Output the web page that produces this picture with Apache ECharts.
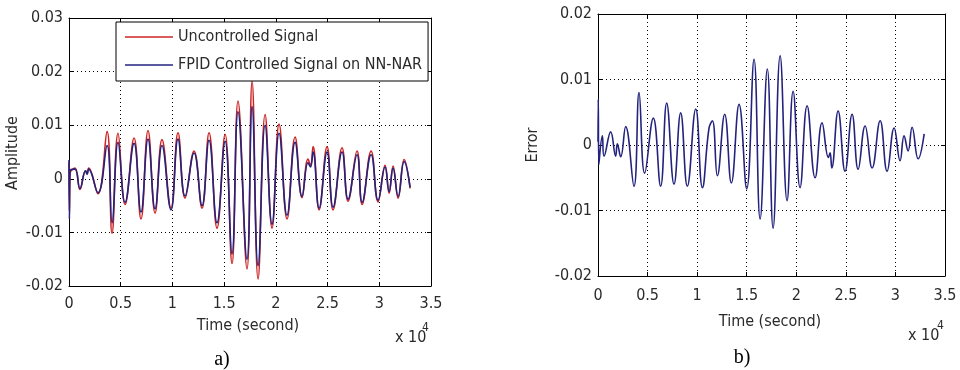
<!DOCTYPE html>
<html>
<head>
<meta charset="utf-8">
<script src="https://cdn.jsdelivr.net/npm/echarts@6/dist/echarts.min.js"></script>
<style>
html,body{margin:0;padding:0;background:#fff;}
#c{width:960px;height:370px;}
</style>
</head>
<body>
<div id="c"></div>
<script>
// ---- Panel a) : time in units of 1e4 s ----
var timeA = [0, 0.004, 0.01, 0.058, 0.106, 0.16, 0.175, 0.19, 0.28, 0.368, 0.416, 0.474, 0.542, 0.629, 0.696, 0.764, 0.832, 0.899, 0.986, 1.054, 1.122, 1.209, 1.286, 1.354, 1.431, 1.509, 1.576, 1.634, 1.721, 1.770, 1.828, 1.896, 1.963, 2.031, 2.108, 2.186, 2.253, 2.311, 2.335, 2.360, 2.418, 2.495, 2.553, 2.640, 2.698, 2.785, 2.834, 2.921, 2.988, 3.056, 3.095, 3.133, 3.182, 3.240, 3.298];
var uncontrolled = [0.003, -0.006, 0.001, 0.002, -0.002, 0.0015, 0.001, 0.002, -0.0028, 0.0088, -0.0102, 0.0085, -0.0048, 0.0076, -0.0075, 0.0090, -0.0064, 0.0073, -0.0055, 0.0086, -0.0036, 0.0052, -0.0055, 0.0086, -0.0092, 0.0083, -0.0158, 0.0145, -0.0168, 0.0182, -0.0187, 0.0120, -0.0092, 0.0102, -0.0075, 0.0078, -0.0035, 0.0037, 0.0025, 0.0060, -0.0058, 0.0060, -0.0058, 0.0058, -0.0042, 0.0052, -0.0048, 0.0052, -0.0043, 0.0025, -0.0027, 0.0024, -0.0036, 0.0036, -0.0018];
var controlled = [0.0035, -0.0075, 0.0015, 0.0018, -0.0018, 0.0015, 0.0008, 0.0018, -0.0026, 0.0062, -0.0082, 0.0068, -0.0044, 0.0066, -0.0062, 0.0074, -0.0056, 0.0062, -0.0058, 0.0074, -0.0032, 0.0048, -0.0050, 0.0072, -0.0082, 0.0070, -0.0140, 0.0125, -0.0150, 0.0135, -0.0162, 0.0100, -0.0085, 0.0085, -0.0068, 0.0068, -0.0033, 0.0030, 0.0022, 0.0050, -0.0055, 0.0050, -0.0053, 0.0050, -0.0038, 0.0045, -0.0044, 0.0045, -0.0040, 0.0022, -0.0024, 0.0020, -0.0033, 0.0032, -0.0016];

// ---- Panel b) ----
var timeB = [0, 0.003, 0.008, 0.044, 0.061, 0.128, 0.178, 0.195, 0.229, 0.279, 0.363, 0.414, 0.471, 0.558, 0.632, 0.693, 0.767, 0.834, 0.901, 0.986, 1.053, 1.120, 1.154, 1.204, 1.278, 1.345, 1.423, 1.500, 1.574, 1.635, 1.708, 1.766, 1.837, 1.907, 1.968, 2.038, 2.109, 2.190, 2.260, 2.324, 2.341, 2.358, 2.422, 2.492, 2.563, 2.624, 2.694, 2.765, 2.846, 2.916, 2.987, 3.047, 3.087, 3.128, 3.168, 3.229, 3.290];
var errorB = [0.0005, 0.007, -0.003, 0.0014, -0.0017, 0.002, -0.0017, 0.0002, -0.0018, 0.0028, -0.0063, 0.008, -0.0043, 0.0041, -0.0063, 0.0064, -0.006, 0.0049, -0.0063, 0.0055, -0.0065, 0.0026, 0.0037, -0.0047, 0.0047, -0.0058, 0.0062, -0.0067, 0.0131, -0.0113, 0.0116, -0.0127, 0.0136, -0.0085, 0.0082, -0.0065, 0.006, -0.005, 0.0034, -0.0019, -0.0012, -0.0035, 0.0052, -0.004, 0.0047, -0.0037, 0.0029, -0.0035, 0.0037, -0.004, 0.0026, -0.0024, 0.0014, -0.0009, 0.0027, -0.0021, 0.0017];

var xTicks = ['0', '0.5', '1', '1.5', '2', '2.5', '3', '3.5'];
var yTicksA = ['-0.02', '-0.01', '0', '0.01', '0.02', '0.03'];
var yTicksB = ['-0.02', '-0.01', '0', '0.01', '0.02'];

function zip(a, b) { var r = []; for (var i = 0; i < a.length; i++) r.push([a[i], b[i]]); return r; }

var FONT = "'Liberation Sans Narrow', 'Arial Narrow', 'DejaVu Sans Condensed', sans-serif";
var TXT = '#2a2a2a';
var FS = 16;

function fmtY(v) { if (Math.abs(v) < 1e-9) return '0'; return v.toFixed(2); }
function fmtX(v) { if (Math.abs(v) < 1e-9) return '0'; return String(Math.round(v * 10) / 10); }

function mainX(gi, margin) {
  return {
    gridIndex: gi, type: 'value', min: 0, max: 3.5, interval: 0.5,
    axisLine: { show: true, onZero: false, lineStyle: { color: '#000', width: 1 } },
    axisTick: { show: true, inside: true, length: 4, lineStyle: { color: '#000' } },
    axisLabel: { fontSize: FS, fontFamily: FONT, color: TXT, margin: margin, formatter: fmtX },
    splitLine: { show: true, lineStyle: { color: '#000', type: [1, 3], width: 1 } }
  };
}
function boxX(gi) {
  return {
    gridIndex: gi, type: 'value', position: 'top', min: 0, max: 3.5, interval: 0.5,
    axisLine: { show: true, onZero: false, lineStyle: { color: '#000', width: 1 } },
    axisTick: { show: true, inside: true, length: 4, lineStyle: { color: '#000' } },
    axisLabel: { show: false }, splitLine: { show: false }
  };
}
function mainY(gi, min, max) {
  return {
    gridIndex: gi, type: 'value', min: min, max: max, interval: 0.01,
    axisLine: { show: true, onZero: false, lineStyle: { color: '#000', width: 1 } },
    axisTick: { show: true, inside: true, length: 4, lineStyle: { color: '#000' } },
    axisLabel: { fontSize: FS, fontFamily: FONT, color: TXT, margin: 6, formatter: fmtY },
    splitLine: { show: true, lineStyle: { color: '#000', type: [1, 3], width: 1 } }
  };
}
function boxY(gi, min, max) {
  return {
    gridIndex: gi, type: 'value', position: 'right', min: min, max: max, interval: 0.01,
    axisLine: { show: true, onZero: false, lineStyle: { color: '#000', width: 1 } },
    axisTick: { show: true, inside: true, length: 4, lineStyle: { color: '#000' } },
    axisLabel: { show: false }, splitLine: { show: false }
  };
}

var chart = echarts.init(document.getElementById('c'), null, { renderer: 'canvas' });
var option = {
  animation: false,
  backgroundColor: '#fff',
  grid: [
    { left: 69, top: 18, width: 362, height: 268 },
    { left: 598, top: 14, width: 347, height: 262 }
  ],
  xAxis: [mainX(0, 10), boxX(0), mainX(1, 12), boxX(1)],
  yAxis: [mainY(0, -0.02, 0.03), boxY(0, -0.02, 0.03), mainY(1, -0.02, 0.02), boxY(1, -0.02, 0.02)],
  legend: {
    orient: 'vertical', left: 116, top: 22,
    backgroundColor: '#fff', borderColor: '#000', borderWidth: 1, borderRadius: 0,
    padding: [5, 6, 6, 9], itemGap: 8, itemWidth: 48, itemHeight: 1.6, icon: 'rect',
    textStyle: { fontSize: FS, fontFamily: FONT, color: TXT, lineHeight: 20 },
    data: ['Uncontrolled Signal', 'FPID Controlled Signal on NN-NAR']
  },
  series: [
    { name: 'Uncontrolled Signal', type: 'line', xAxisIndex: 0, yAxisIndex: 0, data: zip(timeA, uncontrolled),
      symbol: 'none', smooth: 0.45, lineStyle: { color: '#cc2424', width: 1.6 }, itemStyle: { color: '#cc2424' } },
    { name: 'FPID Controlled Signal on NN-NAR', type: 'line', xAxisIndex: 0, yAxisIndex: 0, data: zip(timeA, controlled),
      symbol: 'none', smooth: 0.45, lineStyle: { color: '#23237e', width: 1.6 }, itemStyle: { color: '#23237e' } },
    { name: 'Error', type: 'line', xAxisIndex: 2, yAxisIndex: 2, data: zip(timeB, errorB),
      symbol: 'none', smooth: 0.45, lineStyle: { color: '#23237e', width: 1.6 }, itemStyle: { color: '#23237e' } }
  ],
  graphic: [
    { type: 'text', x: 248, y: 326, style: { text: 'Time (second)', font: FS + 'px ' + FONT, fill: TXT, textAlign: 'center', textVerticalAlign: 'middle' } },
    { type: 'text', x: 13, y: 153, rotation: Math.PI / 2, style: { text: 'Amplitude', font: FS + 'px ' + FONT, fill: TXT, textAlign: 'center', textVerticalAlign: 'middle' } },
    { type: 'text', x: 395, y: 338, style: { text: 'x 10', font: FS + 'px ' + FONT, fill: TXT, textAlign: 'left', textVerticalAlign: 'middle' } },
    { type: 'text', x: 422, y: 328, style: { text: '4', font: '12px ' + FONT, fill: TXT, textAlign: 'left', textVerticalAlign: 'middle' } },
    { type: 'text', x: 222, y: 360, style: { text: 'a)', font: '20px "Liberation Serif", serif', fill: '#000', textAlign: 'center', textVerticalAlign: 'middle' } },

    { type: 'text', x: 770, y: 322, style: { text: 'Time (second)', font: FS + 'px ' + FONT, fill: TXT, textAlign: 'center', textVerticalAlign: 'middle' } },
    { type: 'text', x: 533, y: 145, rotation: Math.PI / 2, style: { text: 'Error', font: FS + 'px ' + FONT, fill: TXT, textAlign: 'center', textVerticalAlign: 'middle' } },
    { type: 'text', x: 908, y: 336, style: { text: 'x 10', font: FS + 'px ' + FONT, fill: TXT, textAlign: 'left', textVerticalAlign: 'middle' } },
    { type: 'text', x: 937, y: 326, style: { text: '4', font: '12px ' + FONT, fill: TXT, textAlign: 'left', textVerticalAlign: 'middle' } },
    { type: 'text', x: 742, y: 358, style: { text: 'b)', font: '20px "Liberation Serif", serif', fill: '#000', textAlign: 'center', textVerticalAlign: 'middle' } }
  ]
};
chart.setOption(option);
</script>
</body>
</html>
